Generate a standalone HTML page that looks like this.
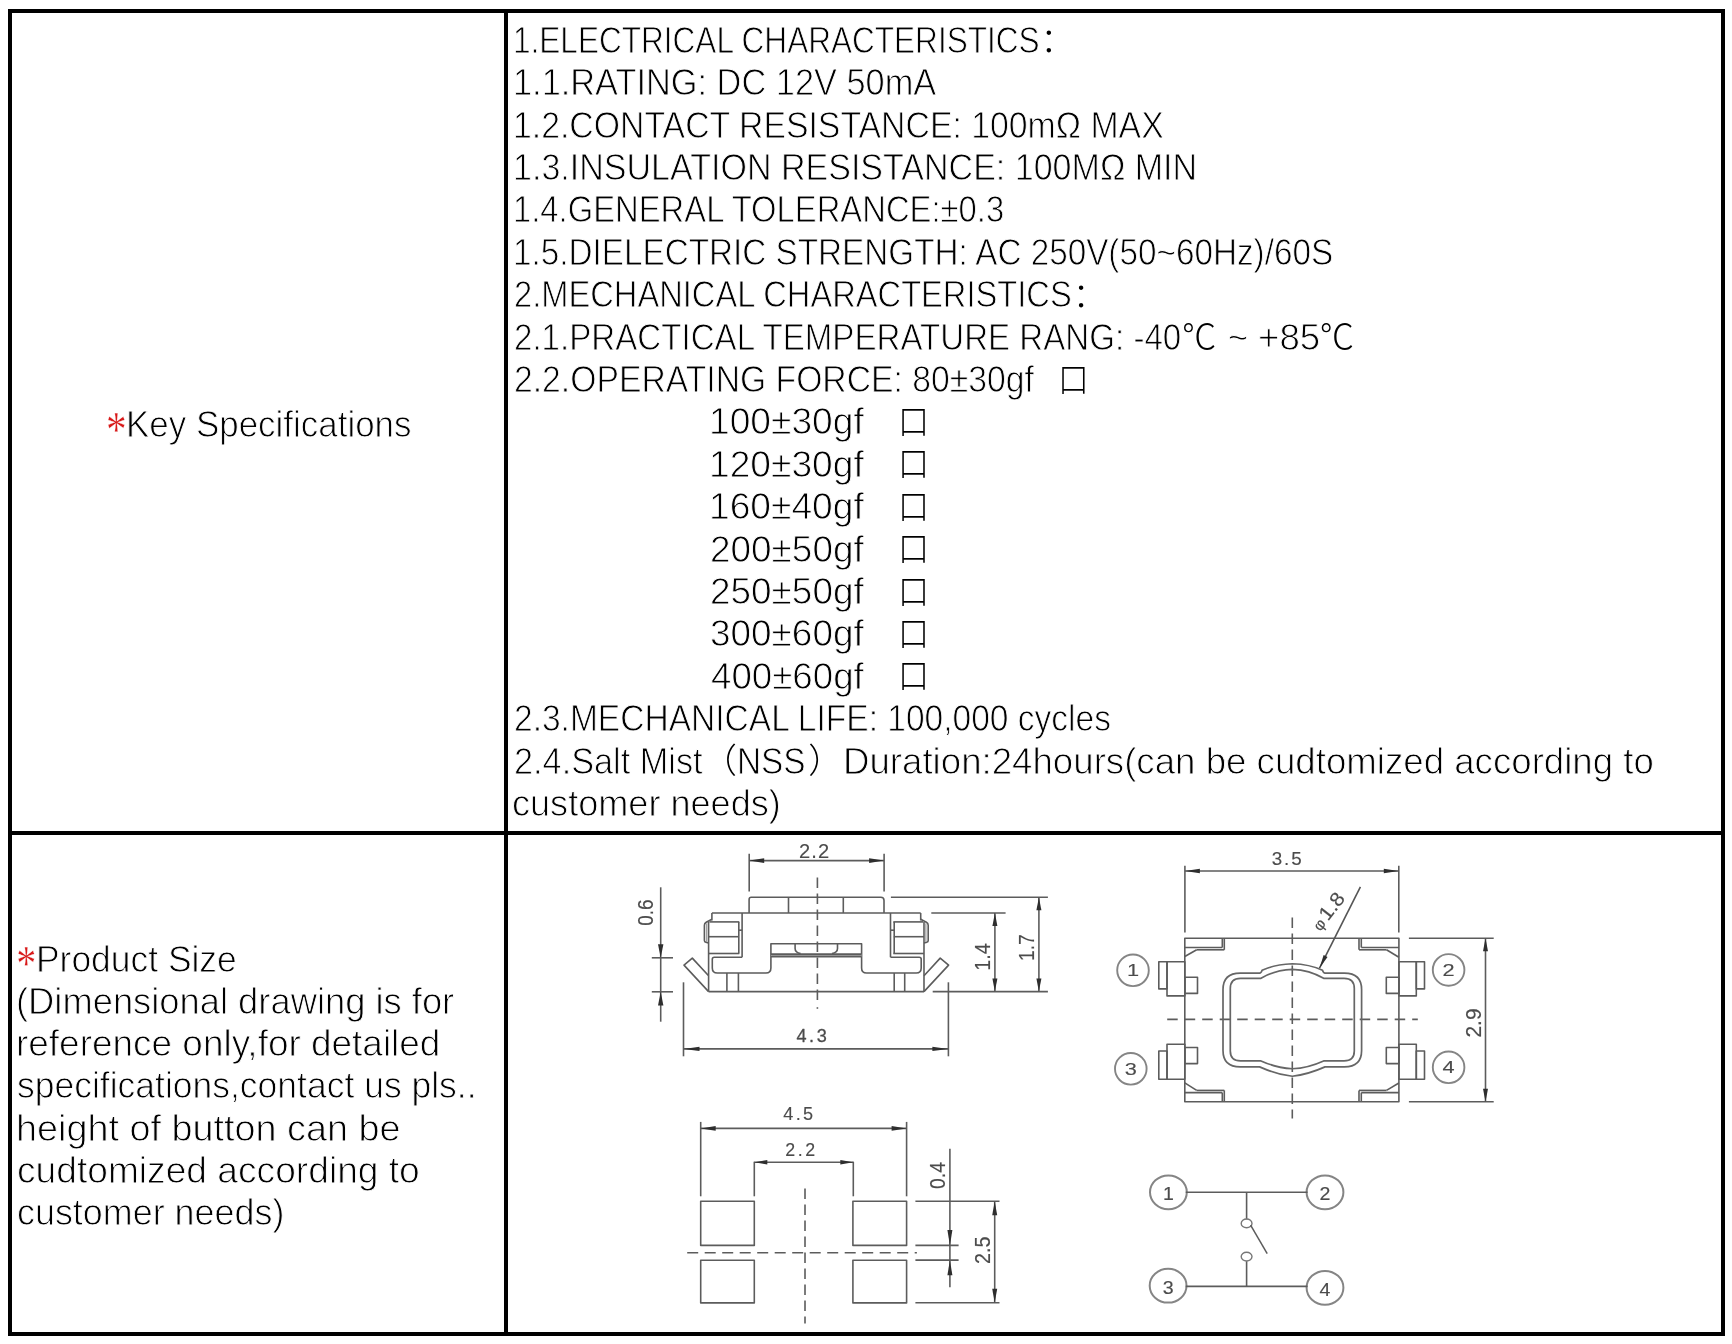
<!DOCTYPE html>
<html lang="en">
<head>
<meta charset="utf-8">
<title>Key Specifications / Product Size</title>
<style>
html,body{margin:0;padding:0;background:#fff;}
body{width:1732px;height:1344px;position:relative;overflow:hidden;font-family:'Liberation Sans','Noto Sans CJK SC',sans-serif;}
.frame{position:absolute;left:8px;top:9px;width:1709px;height:1319px;border:4px solid #000;box-sizing:content-box;}
.vline{position:absolute;left:504px;top:9px;width:4px;height:1327px;background:#000;}
.hline{position:absolute;left:8px;top:831px;width:1717px;height:4px;background:#000;}
.t{position:absolute;white-space:pre;font-family:'Liberation Sans','Noto Sans CJK SC',sans-serif;font-weight:300;font-size:37.6px;line-height:40px;color:#000;transform-origin:0 0;-webkit-text-stroke:0.9px #fff;}
.txt{position:absolute;left:0;top:0;width:1732px;height:1344px;will-change:transform;}
.c{-webkit-text-stroke:0;}
.a{position:absolute;white-space:pre;font-family:'Liberation Serif',serif;color:#d81818;-webkit-text-stroke:0.3px #fff;}
svg{position:absolute;left:0;top:0;}
</style>
</head>
<body>
<div class="frame"></div><div class="vline"></div><div class="hline"></div>
<div class="txt">
<span class="t" style="left:512.87px;top:19.80px;transform:scaleX(0.8397);">1.ELECTRICAL CHARACTERISTICS</span>
<span class="t c" style="left:1040.25px;top:20.30px;font-size:34.4px;">：</span>
<span class="t" style="left:512.72px;top:62.20px;transform:scaleX(0.9142);">1.1.RATING: DC 12V 50mA</span>
<span class="t" style="left:512.75px;top:104.60px;transform:scaleX(0.8994);">1.2.CONTACT RESISTANCE: 100mΩ MAX</span>
<span class="t" style="left:512.74px;top:147.00px;transform:scaleX(0.9056);">1.3.INSULATION RESISTANCE: 100MΩ MIN</span>
<span class="t" style="left:512.81px;top:189.40px;transform:scaleX(0.8724);">1.4.GENERAL TOLERANCE:±0.3</span>
<span class="t" style="left:512.78px;top:231.80px;transform:scaleX(0.8854);">1.5.DIELECTRIC STRENGTH: AC 250V(50~60Hz)/60S</span>
<span class="t" style="left:513.68px;top:274.20px;transform:scaleX(0.8691);">2.MECHANICAL CHARACTERISTICS</span>
<span class="t c" style="left:1072.45px;top:274.70px;font-size:34.4px;">：</span>
<span class="t" style="left:513.67px;top:316.60px;transform:scaleX(0.8811);">2.1.PRACTICAL TEMPERATURE RANG: -40</span>
<span class="t c" style="left:1181.95px;top:317.10px;font-size:34.4px;">℃</span>
<span class="t" style="left:1228.04px;top:316.60px;transform:scaleX(0.9150);">~</span>
<span class="t" style="left:1258.37px;top:316.60px;transform:scaleX(0.9766);">+85</span>
<span class="t c" style="left:1319.75px;top:317.10px;font-size:34.4px;">℃</span>
<span class="t" style="left:513.65px;top:359.00px;transform:scaleX(0.8968);">2.2.OPERATING FORCE: 80±30gf</span>
<span class="t c" style="left:1058.48px;top:359.50px;font-size:34.4px;transform:scaleX(0.8923);">口</span>
<span class="t" style="left:709.17px;top:401.40px;transform:scaleX(0.9889);">100±30gf</span>
<span class="t c" style="left:898.45px;top:401.90px;font-size:34.4px;transform:scaleX(0.9000);">口</span>
<span class="t" style="left:709.17px;top:443.80px;transform:scaleX(0.9889);">120±30gf</span>
<span class="t c" style="left:898.45px;top:444.30px;font-size:34.4px;transform:scaleX(0.9000);">口</span>
<span class="t" style="left:709.17px;top:486.20px;transform:scaleX(0.9889);">160±40gf</span>
<span class="t c" style="left:898.45px;top:486.70px;font-size:34.4px;transform:scaleX(0.9000);">口</span>
<span class="t" style="left:710.17px;top:528.60px;transform:scaleX(0.9826);">200±50gf</span>
<span class="t c" style="left:898.45px;top:529.10px;font-size:34.4px;transform:scaleX(0.9000);">口</span>
<span class="t" style="left:710.17px;top:571.00px;transform:scaleX(0.9826);">250±50gf</span>
<span class="t c" style="left:898.45px;top:571.50px;font-size:34.4px;transform:scaleX(0.9000);">口</span>
<span class="t" style="left:710.17px;top:613.40px;transform:scaleX(0.9826);">300±60gf</span>
<span class="t c" style="left:898.45px;top:613.90px;font-size:34.4px;transform:scaleX(0.9000);">口</span>
<span class="t" style="left:711.15px;top:655.80px;transform:scaleX(0.9763);">400±60gf</span>
<span class="t c" style="left:898.45px;top:656.30px;font-size:34.4px;transform:scaleX(0.9000);">口</span>
<span class="t" style="left:513.66px;top:698.20px;transform:scaleX(0.8923);">2.3.MECHANICAL LIFE: 100,000 cycles</span>
<span class="t" style="left:513.60px;top:741.60px;font-size:36.0px;transform:scaleX(0.9520);">2.4.Salt Mist</span>
<span class="t c" style="left:702.50px;top:741.10px;font-size:34.4px;">（</span>
<span class="t" style="left:737.39px;top:740.60px;transform:scaleX(0.8880);">NSS</span>
<span class="t c" style="left:808.30px;top:741.10px;font-size:34.4px;">）</span>
<span class="t" style="left:842.61px;top:741.60px;font-size:36.0px;transform:scaleX(1.0181);">Duration:24hours(can be cudtomized according to</span>
<span class="t" style="left:512.25px;top:784.00px;font-size:36.0px;transform:scaleX(1.0025);">customer needs)</span>
<span class="t" style="left:125.91px;top:405.30px;font-size:36.0px;transform:scaleX(0.9706);">Key Specifications</span>
<span class="t" style="left:35.88px;top:939.60px;font-size:36.0px;transform:scaleX(0.9837);">Product Size</span>
<span class="t" style="left:16.23px;top:981.70px;font-size:36.0px;transform:scaleX(1.0093);">(Dimensional drawing is for</span>
<span class="t" style="left:16.20px;top:1024.00px;font-size:36.0px;transform:scaleX(1.0262);">reference only,for detailed</span>
<span class="t" style="left:17.26px;top:1066.20px;font-size:36.0px;transform:scaleX(0.9857);">specifications,contact us pls..</span>
<span class="t" style="left:16.15px;top:1108.50px;font-size:36.0px;transform:scaleX(1.0499);">height of button can be</span>
<span class="t" style="left:17.22px;top:1150.80px;font-size:36.0px;transform:scaleX(1.0322);">cudtomized according to</span>
<span class="t" style="left:17.25px;top:1193.10px;font-size:36.0px;transform:scaleX(0.9972);">customer needs)</span>
<span class="a" style="left:105.90px;top:407.77px;font-size:41.19px;line-height:41.19px;transform-origin:50% 15.03px;transform:scaleY(1.234)">*</span>
<span class="a" style="left:16.35px;top:942.20px;font-size:40.00px;line-height:40.00px;transform-origin:50% 14.60px;transform:scaleY(1.270)">*</span>
</div>

<svg width="1732" height="1344" viewBox="0 0 1732 1344" fill="none" stroke="#5c5c5c" stroke-width="1.6" stroke-linecap="butt" stroke-linejoin="round" font-family="'Liberation Sans',sans-serif">
<defs><filter id="soft" x="-2%" y="-2%" width="104%" height="104%"><feGaussianBlur stdDeviation="0.55"/></filter></defs>
<g filter="url(#soft)">
<g>
<line x1="749.2" y1="853.7" x2="749.2" y2="891.5"/>
<line x1="884.1" y1="853.7" x2="884.1" y2="891.5"/>
<line x1="749.2" y1="860.6" x2="884.1" y2="860.6"/>
<polygon points="749.2,860.6 764.2,862.9 764.2,858.3" fill="#2e2e2e" stroke="none"/>
<polygon points="884.1,860.6 869.1,858.3 869.1,862.9" fill="#2e2e2e" stroke="none"/>
<line x1="817.4" y1="877.6" x2="817.4" y2="1000.5" stroke-dasharray="10.5 5.5"/>
<line x1="817.4" y1="1007.2" x2="817.4" y2="1008.8"/>
<path d="M749.1,913 V899.4 Q749.1,897.2 751.3,897.2 H880.8 Q884,897.2 884,900.4 V913"/>
<line x1="788.5" y1="897.2" x2="788.5" y2="913.0"/>
<line x1="843.3" y1="897.2" x2="843.3" y2="913.0"/>
<line x1="711.9" y1="913.0" x2="920.7" y2="913.0"/>
<line x1="711.9" y1="913.0" x2="711.9" y2="920.5"/>
<line x1="742.1" y1="913.0" x2="742.1" y2="957.2"/>
<line x1="709.5" y1="921.9" x2="739.3" y2="921.9"/>
<line x1="708.6" y1="936.7" x2="738.8" y2="936.7"/>
<line x1="708.6" y1="953.5" x2="739.3" y2="953.5"/>
<line x1="738.8" y1="921.9" x2="738.8" y2="953.5"/>
<line x1="738.8" y1="930.2" x2="742.1" y2="930.2"/>
<path d="M711.9,919.3 L706.2,922.3 Q704.4,923.2 704.4,925.2 V940.6 Q704.4,942 705.8,942.2 L708.6,943"/>
<line x1="706.7" y1="923.4" x2="706.7" y2="941.8" stroke-width="1.0" stroke="#8a8a8a"/>
<line x1="708.6" y1="921.9" x2="708.6" y2="991.6"/>
<line x1="920.7" y1="913.0" x2="920.7" y2="920.5"/>
<line x1="890.5" y1="913.0" x2="890.5" y2="957.2"/>
<line x1="893.3" y1="921.9" x2="923.1" y2="921.9"/>
<line x1="893.8" y1="936.7" x2="924.0" y2="936.7"/>
<line x1="893.3" y1="953.5" x2="924.0" y2="953.5"/>
<line x1="894.2" y1="921.9" x2="894.2" y2="953.5"/>
<line x1="890.5" y1="930.2" x2="894.2" y2="930.2"/>
<path d="M920.7,919.3 L926.4,922.3 Q928.2,923.2 928.2,925.2 V940.6 Q928.2,942 926.8,942.2 L924,943"/>
<line x1="925.9" y1="923.4" x2="925.9" y2="941.8" stroke-width="1.0" stroke="#8a8a8a"/>
<line x1="924.0" y1="921.9" x2="924.0" y2="991.6"/>
<path d="M742.1,957.2 H714.3 Q712.3,957.2 712.3,959.2 V968 Q712.3,973 717.3,973 H765.9 Q770.9,973 770.9,968 V943.7 H861.6 V968 Q861.6,973 866.6,973 H916.2 Q921.2,973 921.2,968 V959.2 Q921.2,957.2 919.2,957.2 H890.5"/>
<line x1="770.9" y1="955.4" x2="861.6" y2="955.4" stroke-width="2.6" stroke="#a8a8a8"/>
<line x1="770.9" y1="954.1" x2="861.6" y2="954.1"/>
<line x1="770.9" y1="956.6" x2="861.6" y2="956.6"/>
<path d="M795.1,943.7 V948.5 Q795.1,952.5 800.6,953.6"/>
<path d="M837.5,943.7 V948.5 Q837.5,952.5 832,953.6"/>
<line x1="726.9" y1="973.0" x2="726.9" y2="991.6"/>
<line x1="738.4" y1="973.0" x2="738.4" y2="991.6"/>
<line x1="894.2" y1="973.0" x2="894.2" y2="991.6"/>
<line x1="904.7" y1="973.0" x2="904.7" y2="991.6"/>
<line x1="708.6" y1="991.6" x2="924.0" y2="991.6"/>
<path d="M708.6,991.6 L684,965.1 L692.3,958.1 L708.6,975.8"/>
<path d="M924,991.6 L948.6,965.1 L940.2,958.1 L924,975.8"/>
<line x1="890.9" y1="897.2" x2="1047.9" y2="897.2"/>
<line x1="932.7" y1="991.6" x2="1047.9" y2="991.6"/>
<line x1="931.3" y1="913.0" x2="1005.6" y2="913.0"/>
<line x1="1038.9" y1="897.2" x2="1038.9" y2="991.6"/>
<polygon points="1038.9,897.2 1036.4,910.2 1041.4,910.2" fill="#2e2e2e" stroke="none"/>
<polygon points="1038.9,991.6 1041.4,978.6 1036.4,978.6" fill="#2e2e2e" stroke="none"/>
<line x1="994.9" y1="913.0" x2="994.9" y2="991.6"/>
<polygon points="994.9,913.0 992.4,926.0 997.4,926.0" fill="#2e2e2e" stroke="none"/>
<polygon points="994.9,991.6 997.4,978.6 992.4,978.6" fill="#2e2e2e" stroke="none"/>
<line x1="660.7" y1="887.3" x2="660.7" y2="1021.7"/>
<line x1="651.8" y1="957.8" x2="673.0" y2="957.8"/>
<line x1="651.8" y1="991.8" x2="673.0" y2="991.8"/>
<polygon points="660.7,957.8 663.4,944.2 658.0,944.2" fill="#2e2e2e" stroke="none"/>
<polygon points="660.7,991.8 658.0,1005.4 663.4,1005.4" fill="#2e2e2e" stroke="none"/>
<line x1="683.5" y1="982.3" x2="683.5" y2="1056.3"/>
<line x1="948.4" y1="982.3" x2="948.4" y2="1056.3"/>
<line x1="683.5" y1="1048.9" x2="948.4" y2="1048.9"/>
<polygon points="683.5,1048.9 699.5,1051.1 699.5,1046.7" fill="#2e2e2e" stroke="none"/>
<polygon points="948.4,1048.9 932.4,1046.7 932.4,1051.1" fill="#2e2e2e" stroke="none"/>
<rect x="1184.8" y="938.3" width="214.1" height="163.5"/>
<line x1="1184.8" y1="947.5" x2="1222.3" y2="947.5"/>
<line x1="1196.7" y1="949.8" x2="1224.3" y2="949.8"/>
<line x1="1222.3" y1="938.3" x2="1222.3" y2="947.5"/>
<line x1="1224.3" y1="938.3" x2="1224.3" y2="949.8"/>
<line x1="1196.7" y1="949.8" x2="1184.8" y2="956.5"/>
<line x1="1361.3" y1="947.5" x2="1398.9" y2="947.5"/>
<line x1="1359.0" y1="949.8" x2="1386.5" y2="949.8"/>
<line x1="1361.3" y1="938.3" x2="1361.3" y2="947.5"/>
<line x1="1359.0" y1="938.3" x2="1359.0" y2="949.8"/>
<line x1="1386.5" y1="949.8" x2="1398.9" y2="957.2"/>
<line x1="1184.8" y1="1092.6" x2="1222.3" y2="1092.6"/>
<line x1="1196.7" y1="1090.4" x2="1224.3" y2="1090.4"/>
<line x1="1222.3" y1="1092.6" x2="1222.3" y2="1101.8"/>
<line x1="1224.3" y1="1090.4" x2="1224.3" y2="1101.8"/>
<line x1="1196.7" y1="1090.4" x2="1184.8" y2="1082.9"/>
<line x1="1361.3" y1="1092.6" x2="1398.9" y2="1092.6"/>
<line x1="1359.0" y1="1090.4" x2="1386.5" y2="1090.4"/>
<line x1="1361.3" y1="1092.6" x2="1361.3" y2="1101.8"/>
<line x1="1359.0" y1="1090.4" x2="1359.0" y2="1101.8"/>
<line x1="1386.5" y1="1090.4" x2="1398.9" y2="1083.0"/>
<rect x="1167.0" y="961.7" width="17.8" height="34.2"/>
<rect x="1158.8" y="961.7" width="8.2" height="27.2"/>
<rect x="1184.8" y="977.3" width="12.7" height="16.1"/>
<rect x="1167.0" y="1044.3" width="17.8" height="34.9"/>
<rect x="1158.8" y="1051.0" width="8.2" height="28.2"/>
<rect x="1184.8" y="1047.5" width="12.7" height="16.1"/>
<rect x="1398.9" y="961.7" width="17.4" height="34.2"/>
<rect x="1416.3" y="961.7" width="8.2" height="27.2"/>
<rect x="1386.3" y="977.3" width="12.6" height="16.1"/>
<rect x="1398.9" y="1044.3" width="17.4" height="34.9"/>
<rect x="1416.3" y="1051.0" width="8.2" height="28.2"/>
<rect x="1386.3" y="1047.5" width="12.6" height="16.1"/>
<line x1="1292.3" y1="917.5" x2="1292.3" y2="1118.5" stroke-dasharray="10.5 5.5"/>
<line x1="1167.2" y1="1019.4" x2="1417.8" y2="1019.4" stroke-dasharray="10.5 7"/>
<path d="M1223.0,989.6 Q1223.0,973.1 1240.2,973.1 H1259.6 Q1261.2,973.1 1262.1,970.3 Q1275,964.2 1292.3,963.75 Q1309.6,964.2 1322.5,970.3 Q1323.4,973.1 1325,973.1 H1344.4 Q1361.6,973.1 1361.6,989.6 V1050.5 Q1361.6,1066.9 1344.4,1066.9 H1325 Q1308,1074.5 1292.3,1076.25 Q1276.6,1074.5 1259.6,1066.9 H1240.2 Q1223.0,1066.9 1223.0,1050.5 Z" stroke="#666" stroke-width="1.7"/>
<path d="M1230.3,988.5 Q1230.3,978.3 1240.5,978.3 H1261 Q1275,969.9 1292.3,969.3 Q1309.6,969.9 1323.6,978.3 H1344.1 Q1354.3,978.3 1354.3,988.5 V1051 Q1354.3,1060.9 1344.1,1060.9 H1323.6 Q1308,1068 1292.3,1068.75 Q1276.6,1068 1261,1060.9 H1240.5 Q1230.3,1060.9 1230.3,1051 Z" stroke="#666" stroke-width="1.7"/>
<ellipse cx="1133.0" cy="970.3" rx="15.8" ry="15.8" stroke="#858585" stroke-width="1.9"/>
<ellipse cx="1448.6" cy="969.9" rx="15.8" ry="15.8" stroke="#858585" stroke-width="1.9"/>
<ellipse cx="1130.8" cy="1068.8" rx="15.8" ry="15.8" stroke="#858585" stroke-width="1.9"/>
<ellipse cx="1448.6" cy="1067.3" rx="15.8" ry="15.8" stroke="#858585" stroke-width="1.9"/>
<line x1="1184.9" y1="865.7" x2="1184.9" y2="932.4"/>
<line x1="1398.8" y1="865.7" x2="1398.8" y2="932.4"/>
<line x1="1184.9" y1="871.0" x2="1398.8" y2="871.0"/>
<polygon points="1184.9,871.0 1199.9,873.3 1199.9,868.7" fill="#2e2e2e" stroke="none"/>
<polygon points="1398.8,871.0 1383.8,868.7 1383.8,873.3" fill="#2e2e2e" stroke="none"/>
<line x1="1408.9" y1="938.3" x2="1493.7" y2="938.3"/>
<line x1="1408.9" y1="1101.8" x2="1493.7" y2="1101.8"/>
<line x1="1485.5" y1="938.3" x2="1485.5" y2="1101.8"/>
<polygon points="1485.5,938.3 1483.0,951.3 1488.0,951.3" fill="#2e2e2e" stroke="none"/>
<polygon points="1485.5,1101.8 1488.0,1088.8 1483.0,1088.8" fill="#2e2e2e" stroke="none"/>
<line x1="1360.4" y1="886.8" x2="1319.5" y2="968.2" stroke="#555"/>
<polygon points="1319.5,968.2 1327.5,957.1 1323.6,955.1" fill="#2e2e2e" stroke="none"/>
<rect x="700.7" y="1201.2" width="53.6" height="44.2"/>
<rect x="852.9" y="1201.2" width="53.7" height="44.2"/>
<rect x="700.7" y="1260.2" width="53.6" height="42.7"/>
<rect x="852.9" y="1260.2" width="53.7" height="42.7"/>
<line x1="700.7" y1="1121.9" x2="700.7" y2="1196.3"/>
<line x1="906.6" y1="1121.9" x2="906.6" y2="1196.3"/>
<line x1="700.7" y1="1128.4" x2="906.6" y2="1128.4"/>
<polygon points="700.7,1128.4 715.7,1130.7 715.7,1126.1" fill="#2e2e2e" stroke="none"/>
<polygon points="906.6,1128.4 891.6,1126.1 891.6,1130.7" fill="#2e2e2e" stroke="none"/>
<line x1="754.3" y1="1161.7" x2="754.3" y2="1196.3"/>
<line x1="853.3" y1="1161.7" x2="853.3" y2="1196.3"/>
<line x1="754.3" y1="1162.3" x2="853.3" y2="1162.3"/>
<polygon points="754.3,1162.3 767.3,1164.5 767.3,1160.1" fill="#2e2e2e" stroke="none"/>
<polygon points="853.3,1162.3 840.3,1160.1 840.3,1164.5" fill="#2e2e2e" stroke="none"/>
<line x1="805.0" y1="1188.4" x2="805.0" y2="1323.4" stroke-dasharray="10.5 5.5"/>
<line x1="687.2" y1="1252.7" x2="916.9" y2="1252.7" stroke-dasharray="11 6.5"/>
<line x1="949.9" y1="1148.7" x2="949.9" y2="1287.3"/>
<line x1="915.4" y1="1245.4" x2="958.6" y2="1245.4"/>
<line x1="915.4" y1="1260.1" x2="958.6" y2="1260.1"/>
<polygon points="949.9,1245.4 952.4,1229.9 947.4,1229.9" fill="#2e2e2e" stroke="none"/>
<polygon points="949.9,1260.1 947.4,1275.3 952.4,1275.3" fill="#2e2e2e" stroke="none"/>
<line x1="915.4" y1="1201.2" x2="999.5" y2="1201.2"/>
<line x1="915.4" y1="1302.7" x2="999.5" y2="1302.7"/>
<line x1="994.7" y1="1201.2" x2="994.7" y2="1302.7"/>
<polygon points="994.7,1201.2 992.2,1215.2 997.2,1215.2" fill="#2e2e2e" stroke="none"/>
<polygon points="994.7,1302.7 997.2,1288.7 992.2,1288.7" fill="#2e2e2e" stroke="none"/>
<ellipse cx="1168.4" cy="1192.3" rx="18.4" ry="16.9" stroke="#858585" stroke-width="2.0"/>
<ellipse cx="1325.0" cy="1192.3" rx="18.4" ry="16.9" stroke="#858585" stroke-width="2.0"/>
<ellipse cx="1168.1" cy="1285.7" rx="18.4" ry="16.9" stroke="#858585" stroke-width="2.0"/>
<ellipse cx="1325.0" cy="1287.8" rx="18.4" ry="16.9" stroke="#858585" stroke-width="2.0"/>
<line x1="1185.7" y1="1192.3" x2="1307.6" y2="1192.3" stroke-width="1.6"/>
<line x1="1185.7" y1="1286.4" x2="1307.6" y2="1286.4" stroke-width="1.6"/>
<line x1="1246.6" y1="1192.3" x2="1246.6" y2="1219.3" stroke-width="1.6"/>
<line x1="1246.6" y1="1261.1" x2="1246.6" y2="1286.4" stroke-width="1.6"/>
<ellipse cx="1246.6" cy="1223.4" rx="5.4" ry="4.4" stroke="#777" stroke-width="1.4"/>
<ellipse cx="1246.6" cy="1256.6" rx="5.4" ry="4.4" stroke="#777" stroke-width="1.4"/>
<line x1="1250.6" y1="1225.1" x2="1267.2" y2="1253.6" stroke-width="1.5"/>
</g>
<g fill="#4c4c4c" stroke="#4c4c4c" stroke-width="0.15">
<text x="814.1" y="857.9" font-size="20.1" text-anchor="middle" textLength="30.0" lengthAdjust="spacing">2.2</text>
<text transform="translate(1026.3,947.7) rotate(-90)" x="0" y="7.7" font-size="22.2" text-anchor="middle" textLength="26.5" lengthAdjust="spacingAndGlyphs">1.7</text>
<text transform="translate(982.1,957.0) rotate(-90)" x="0" y="7.7" font-size="22.2" text-anchor="middle" textLength="27.4" lengthAdjust="spacingAndGlyphs">1.4</text>
<text transform="translate(645.4,912.6) rotate(-90)" x="0" y="7.5" font-size="21.7" text-anchor="middle" textLength="26.3" lengthAdjust="spacingAndGlyphs">0.6</text>
<text x="811.6" y="1042.0" font-size="18.1" text-anchor="middle" textLength="30.3" lengthAdjust="spacing" stroke-width="0.3">4.3</text>
<text transform="translate(1133.0,976.3) scale(1.25,1)" x="0" y="0" font-size="17.4" text-anchor="middle">1</text>
<text transform="translate(1448.6,975.9) scale(1.25,1)" x="0" y="0" font-size="17.4" text-anchor="middle">2</text>
<text transform="translate(1130.8,1074.8) scale(1.25,1)" x="0" y="0" font-size="17.4" text-anchor="middle">3</text>
<text transform="translate(1448.6,1073.3) scale(1.25,1)" x="0" y="0" font-size="17.4" text-anchor="middle">4</text>
<text x="1286.7" y="864.5" font-size="18.8" text-anchor="middle" textLength="29.9" lengthAdjust="spacing">3.5</text>
<text transform="translate(1473.6,1023.0) rotate(-90)" x="0" y="7.4" font-size="21.4" text-anchor="middle" textLength="29.1" lengthAdjust="spacingAndGlyphs">2.9</text>
<text transform="translate(1327.7,911.1) rotate(-52.5)" x="0" y="6.8" font-size="19.6" text-anchor="middle" textLength="42.0" lengthAdjust="spacingAndGlyphs"><tspan font-size="15">φ</tspan><tspan dx="2">1.8</tspan></text>
<text x="798.2" y="1120.3" font-size="18.1" text-anchor="middle" textLength="29.9" lengthAdjust="spacing">4.5</text>
<text x="800.2" y="1155.7" font-size="17.8" text-anchor="middle" textLength="29.9" lengthAdjust="spacing">2.2</text>
<text transform="translate(937.5,1175.5) rotate(-90)" x="0" y="7.3" font-size="21.3" text-anchor="middle" textLength="26.8" lengthAdjust="spacingAndGlyphs">0.4</text>
<text transform="translate(982.2,1250.2) rotate(-90)" x="0" y="7.6" font-size="22.0" text-anchor="middle" textLength="27.5" lengthAdjust="spacingAndGlyphs">2.5</text>
<text transform="translate(1168.4,1200.3) scale(1.12,1)" x="0" y="0" font-size="17.5" text-anchor="middle">1</text>
<text transform="translate(1325.0,1200.3) scale(1.12,1)" x="0" y="0" font-size="17.5" text-anchor="middle">2</text>
<text transform="translate(1168.1,1293.8) scale(1.12,1)" x="0" y="0" font-size="17.5" text-anchor="middle">3</text>
<text transform="translate(1325.0,1295.8) scale(1.12,1)" x="0" y="0" font-size="17.5" text-anchor="middle">4</text>
</g>
</g>
</svg>
</body>
</html>
